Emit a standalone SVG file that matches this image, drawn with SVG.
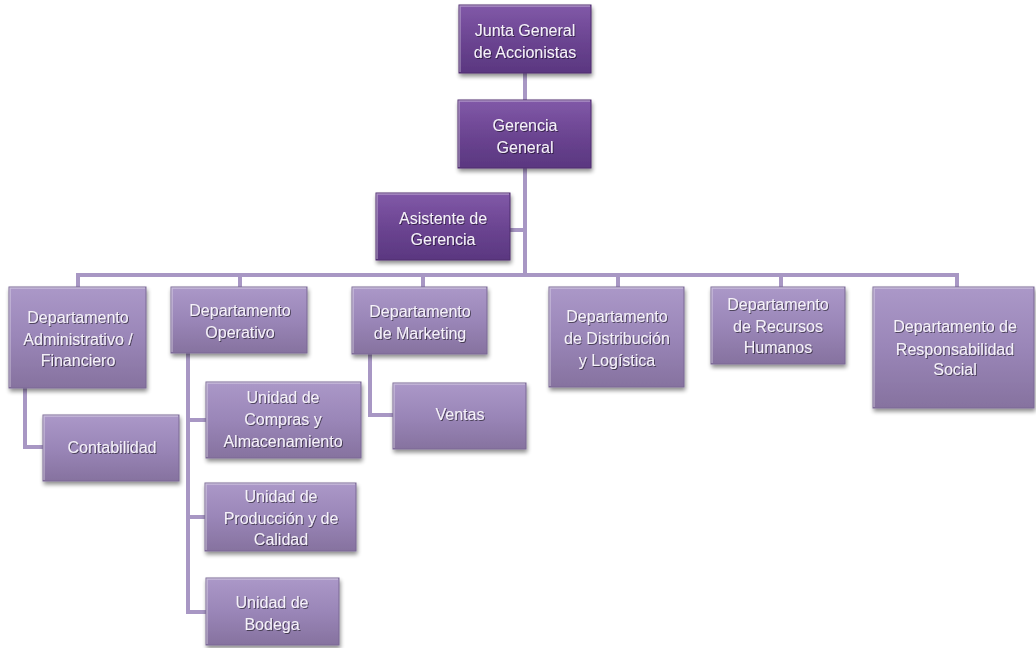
<svg xmlns="http://www.w3.org/2000/svg" width="1036" height="648" viewBox="0 0 1036 648">
<defs>
<linearGradient id="gDark" x1="0" y1="0" x2="0" y2="1">
<stop offset="0" stop-color="#8159a8"/>
<stop offset="0.5" stop-color="#6c4592"/>
<stop offset="1" stop-color="#5a3780"/>
</linearGradient>
<linearGradient id="gLight" x1="0" y1="0" x2="0" y2="1">
<stop offset="0" stop-color="#ab98c8"/>
<stop offset="0.5" stop-color="#9a86b8"/>
<stop offset="1" stop-color="#86729f"/>
</linearGradient>
<filter id="sh" x="-10%" y="-10%" width="125%" height="130%">
<feGaussianBlur in="SourceAlpha" stdDeviation="2"/>
<feOffset dx="1" dy="3" result="b"/>
<feComponentTransfer><feFuncA type="linear" slope="0.45"/></feComponentTransfer>
<feMerge><feMergeNode/><feMergeNode in="SourceGraphic"/></feMerge>
</filter>
<filter id="ts" x="-5%" y="-20%" width="110%" height="140%">
<feGaussianBlur in="SourceAlpha" stdDeviation="0.6"/>
<feOffset dx="0.5" dy="1"/>
<feComponentTransfer><feFuncA type="linear" slope="0.5"/></feComponentTransfer>
<feMerge><feMergeNode/><feMergeNode in="SourceGraphic"/></feMerge>
</filter>
</defs>
<style>
.dark{fill:url(#gDark);stroke:#4e2f6e;stroke-width:1;filter:url(#sh)}
.light{fill:url(#gLight);stroke:#7a6894;stroke-width:1;filter:url(#sh)}
.hl{fill:none;stroke:#ffffff;stroke-opacity:0.35;stroke-width:1.5}
text{font-family:"Liberation Sans",Arial,sans-serif;font-size:16px;fill:#f5f1f9;text-anchor:middle;filter:url(#ts)}
.con{fill:none;stroke:#a897c4;stroke-width:4;stroke-linejoin:miter}
</style>
<rect width="1036" height="648" fill="#ffffff"/>
<g id="connectors">
<path class="con" d="M525 73 V275"/>
<path class="con" d="M525 230 H510"/>
<path class="con" d="M78 287 V275 H957 V287"/>
<path class="con" d="M240 275 V287"/>
<path class="con" d="M423 275 V287"/>
<path class="con" d="M618 275 V287"/>
<path class="con" d="M781 275 V287"/>
<path class="con" d="M25 388 V447 H44"/>
<path class="con" d="M188 353 V612 H206"/>
<path class="con" d="M188 420 H206"/>
<path class="con" d="M188 517 H206"/>
<path class="con" d="M370 353 V415 H393"/>
</g>
<g id="junta">
<rect class="dark" x="459" y="5" width="132" height="68"/>
<path class="hl" d="M460 72 V6 H590"/>
<text x="525" y="36">Junta General</text>
<text x="525" y="58">de Accionistas</text>
</g>
<g id="gerencia">
<rect class="dark" x="458" y="100" width="133" height="68"/>
<path class="hl" d="M459 167 V101 H590"/>
<text x="525" y="131">Gerencia</text>
<text x="525" y="153">General</text>
</g>
<g id="asistente">
<rect class="dark" x="376" y="193" width="134" height="67"/>
<path class="hl" d="M377 259 V194 H509"/>
<text x="443" y="224">Asistente de</text>
<text x="443" y="245">Gerencia</text>
</g>
<g id="admin">
<rect class="light" x="9" y="287" width="137" height="101"/>
<path class="hl" d="M10 387 V288 H145"/>
<text x="78" y="323">Departamento</text>
<text x="78" y="345">Administrativo /</text>
<text x="78" y="366">Financiero</text>
</g>
<g id="operativo">
<rect class="light" x="171" y="287" width="136" height="66"/>
<path class="hl" d="M172 352 V288 H306"/>
<text x="240" y="316">Departamento</text>
<text x="240" y="338">Operativo</text>
</g>
<g id="marketing">
<rect class="light" x="352" y="287" width="135" height="67"/>
<path class="hl" d="M353 353 V288 H486"/>
<text x="420" y="317">Departamento</text>
<text x="420" y="339">de Marketing</text>
</g>
<g id="distribucion">
<rect class="light" x="549" y="287" width="135" height="100"/>
<path class="hl" d="M550 386 V288 H683"/>
<text x="617" y="322">Departamento</text>
<text x="617" y="344">de Distribución</text>
<text x="617" y="366">y Logística</text>
</g>
<g id="rrhh">
<rect class="light" x="711" y="287" width="134" height="77"/>
<path class="hl" d="M712 363 V288 H844"/>
<text x="778" y="310">Departamento</text>
<text x="778" y="332">de Recursos</text>
<text x="778" y="353">Humanos</text>
</g>
<g id="responsabilidad">
<rect class="light" x="873" y="287" width="161" height="121"/>
<path class="hl" d="M874 407 V288 H1033"/>
<text x="955" y="332">Departamento de</text>
<text x="955" y="355">Responsabilidad</text>
<text x="955" y="375">Social</text>
</g>
<g id="contabilidad">
<rect class="light" x="43" y="415" width="136" height="66"/>
<path class="hl" d="M44 480 V416 H178"/>
<text x="112" y="453">Contabilidad</text>
</g>
<g id="compras">
<rect class="light" x="206" y="382" width="155" height="76"/>
<path class="hl" d="M207 457 V383 H360"/>
<text x="283" y="403">Unidad de</text>
<text x="283" y="425">Compras y</text>
<text x="283" y="447">Almacenamiento</text>
</g>
<g id="produccion">
<rect class="light" x="205" y="483" width="151" height="68"/>
<path class="hl" d="M206 550 V484 H355"/>
<text x="281" y="502">Unidad de</text>
<text x="281" y="524">Producción y de</text>
<text x="281" y="545">Calidad</text>
</g>
<g id="bodega">
<rect class="light" x="206" y="578" width="133" height="67"/>
<path class="hl" d="M207 644 V579 H338"/>
<text x="272" y="608">Unidad de</text>
<text x="272" y="630">Bodega</text>
</g>
<g id="ventas">
<rect class="light" x="393" y="383" width="133" height="66"/>
<path class="hl" d="M394 448 V384 H525"/>
<text x="460" y="420">Ventas</text>
</g>
</svg>
